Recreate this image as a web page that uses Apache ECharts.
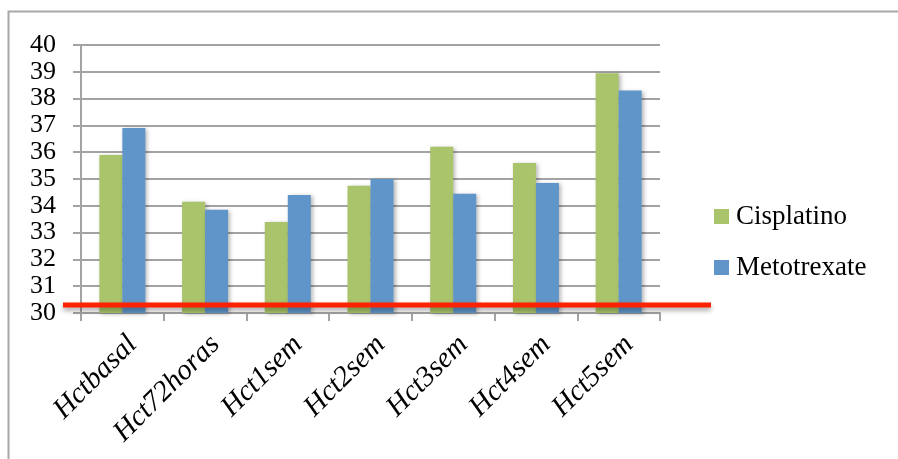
<!DOCTYPE html>
<html>
<head>
<meta charset="utf-8">
<script src="https://cdn.jsdelivr.net/npm/echarts@6/dist/echarts.min.js"></script>
<style>
  html, body { margin: 0; padding: 0; background: #fff; }
  #chart { width: 898px; height: 459px; }
</style>
</head>
<body>
<div id="chart"></div>
<script>
// Hematocrit by time point for the two treatment groups
const categories = ['Hctbasal', 'Hct72horas', 'Hct1sem', 'Hct2sem', 'Hct3sem', 'Hct4sem', 'Hct5sem'];
const cisplatino = [35.9, 34.15, 33.4, 34.75, 36.2, 35.6, 38.95];
const metotrexate = [36.9, 33.85, 34.4, 35.0, 34.45, 34.85, 38.3];
const seriesNames = ['Cisplatino', 'Metotrexate'];
const yTicks = { min: 30, max: 40, step: 1 };
const referenceLevel = 30.3;

const serif = '"Liberation Serif", "DejaVu Serif", serif';
const gridColor = '#a3a3a3';

const chart = echarts.init(document.getElementById('chart'), null, { renderer: 'canvas' });

const barShadow = {
  shadowColor: 'rgba(0,0,0,0.28)',
  shadowBlur: 4,
  shadowOffsetX: 2,
  shadowOffsetY: 1
};

chart.setOption({
  animation: false,
  backgroundColor: '#fff',
  grid: { left: 81, right: 238, top: 45, bottom: 146, containLabel: false },
  legend: {
    orient: 'vertical',
    left: 709,
    top: 198,
    itemWidth: 15,
    itemHeight: 15,
    itemGap: 24,
    icon: 'rect',
    textStyle: { fontFamily: serif, fontSize: 27, color: '#000', padding: [0, 0, 0, 2] },
    data: seriesNames
  },
  xAxis: {
    type: 'category',
    data: categories,
    axisLine: { show: true, lineStyle: { color: gridColor, width: 2 } },
    axisTick: { show: true, length: 8, lineStyle: { color: gridColor, width: 2 } },
    axisLabel: {
      rotate: 45,
      margin: 17,
      verticalAlign: 'top',
      fontFamily: serif,
      fontStyle: 'italic',
      fontSize: 29,
      color: '#000',
      interval: 0
    }
  },
  yAxis: {
    type: 'value',
    min: yTicks.min,
    max: yTicks.max,
    interval: yTicks.step,
    axisLine: { show: true, lineStyle: { color: gridColor, width: 2 } },
    axisTick: { show: true, length: 8, lineStyle: { color: gridColor, width: 2 } },
    splitLine: { show: true, lineStyle: { color: gridColor, width: 2 } },
    axisLabel: {
      margin: 25,
      fontFamily: serif,
      fontSize: 26,
      color: '#000',
      showMinLabel: true,
      showMaxLabel: true,
      hideOverlap: false
    }
  },
  series: [
    {
      name: seriesNames[0],
      type: 'bar',
      data: cisplatino,
      barWidth: 23,
      barGap: '0%',
      itemStyle: Object.assign({ color: '#a9c46b' }, barShadow)
    },
    {
      name: seriesNames[1],
      type: 'bar',
      data: metotrexate,
      barWidth: 23,
      barGap: '0%',
      itemStyle: Object.assign({ color: '#5f95c8' }, barShadow)
    }
  ]
});

// Frame around the chart and the red reference level line, placed via the axis scale
const refY = chart.convertToPixel({ yAxisIndex: 0 }, referenceLevel);
chart.setOption({
  graphic: [
    {
      type: 'rect',
      silent: true,
      shape: { x: 8.5, y: 11.5, width: 1000, height: 1000 },
      style: { fill: 'none', stroke: '#a8a8a8', lineWidth: 2 },
      z: 0
    },
    {
      type: 'line',
      silent: true,
      shape: { x1: 63, y1: refY, x2: 711, y2: refY },
      style: {
        stroke: '#ff2200',
        lineWidth: 5,
        shadowColor: 'rgba(0,0,0,0.35)',
        shadowBlur: 5,
        shadowOffsetY: 3
      },
      z: 100
    }
  ]
});
</script>
</body>
</html>
